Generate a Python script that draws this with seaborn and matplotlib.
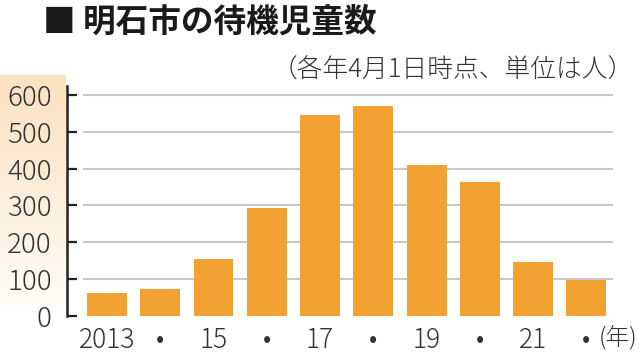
import numpy as np
import pandas as pd
import matplotlib
matplotlib.use("Agg")
import matplotlib.pyplot as plt
import seaborn as sns
from matplotlib.colors import LinearSegmentedColormap

years = ["2013", "2014", "2015", "2016", "2017", "2018", "2019", "2020", "2021", "2022"]
values = [62, 74, 155, 293, 546, 570, 410, 364, 147, 99]
tick_labels = ["2013", "•", "15", "•", "17", "•", "19", "•", "21", "•"]
y_ticks = [0, 100, 200, 300, 400, 500, 600]
title = "■ 明石市の待機児童数"
subtitle = "（各年4月1日時点、単位は人）"
unit = "(年)"

sns.set_theme(style="white")
plt.rcParams['font.family'] = ['Noto Sans CJK JP', 'DejaVu Sans']

W, H = 639, 353
fig = plt.figure(figsize=(W / 100, H / 100), dpi=100)

# beige gradient behind y tick labels
bg = fig.add_axes([0, 37 / H, 66 / W, (316 - 75) / H])
grad = np.linspace(1, 0, 200).reshape(-1, 1) ** 0.8
cmap = LinearSegmentedColormap.from_list("b", ["#ffffff", "#fbe2c0"])
bg.imshow(grad, aspect="auto", cmap=cmap, vmin=0, vmax=1)
bg.set_axis_off()

ax = fig.add_axes([67 / W, 37 / H, (613 - 67) / W, (316 - 86) / H])
ax.patch.set_alpha(0)
df = pd.DataFrame({"year": years, "value": values})
sns.barplot(data=df, x="year", y="value", order=years, color="#f2a232",
            saturation=1, width=0.75, ax=ax, zorder=3, edgecolor="none")

ax.set_xlim(-0.75, 9.5)
ax.set_ylim(0, 624)
ax.hlines(y_ticks[1:], -0.45, 9.5, colors="#c9c9c9", linewidth=1.5, zorder=1)

for s in ["top", "right", "bottom"]:
    ax.spines[s].set_visible(False)
ax.spines["left"].set_color("#222222")
ax.spines["left"].set_linewidth(1.8)

ax.set_yticks(y_ticks)
ax.set_yticklabels([str(v) for v in y_ticks], fontsize=20, color="#333333",
                   fontweight="light")
ax.tick_params(axis="y", left=True, direction="in", length=7, width=1.6,
               color="#222222", pad=11)
ax.set_xticks(range(len(years)))
ax.set_xticklabels(tick_labels, fontsize=19, color="#333333", fontweight="light")
ax.tick_params(axis="x", bottom=False, length=0, pad=7)
ax.set_xlabel("")
ax.set_ylabel("")

fig.text(43 / W, 1 - 22 / H, title, fontsize=23.5, fontweight="bold",
         color="#1a1a1a", va="center", ha="left")
fig.text(634 / W, 1 - 70 / H, subtitle, fontsize=18.5, color="#333333",
         va="center", ha="right", fontweight="light")
fig.text(637 / W, 1 - 338 / H, unit, fontsize=17, color="#333333",
         va="center", ha="right", fontweight="light")

fig.savefig("out.png", dpi=100)
